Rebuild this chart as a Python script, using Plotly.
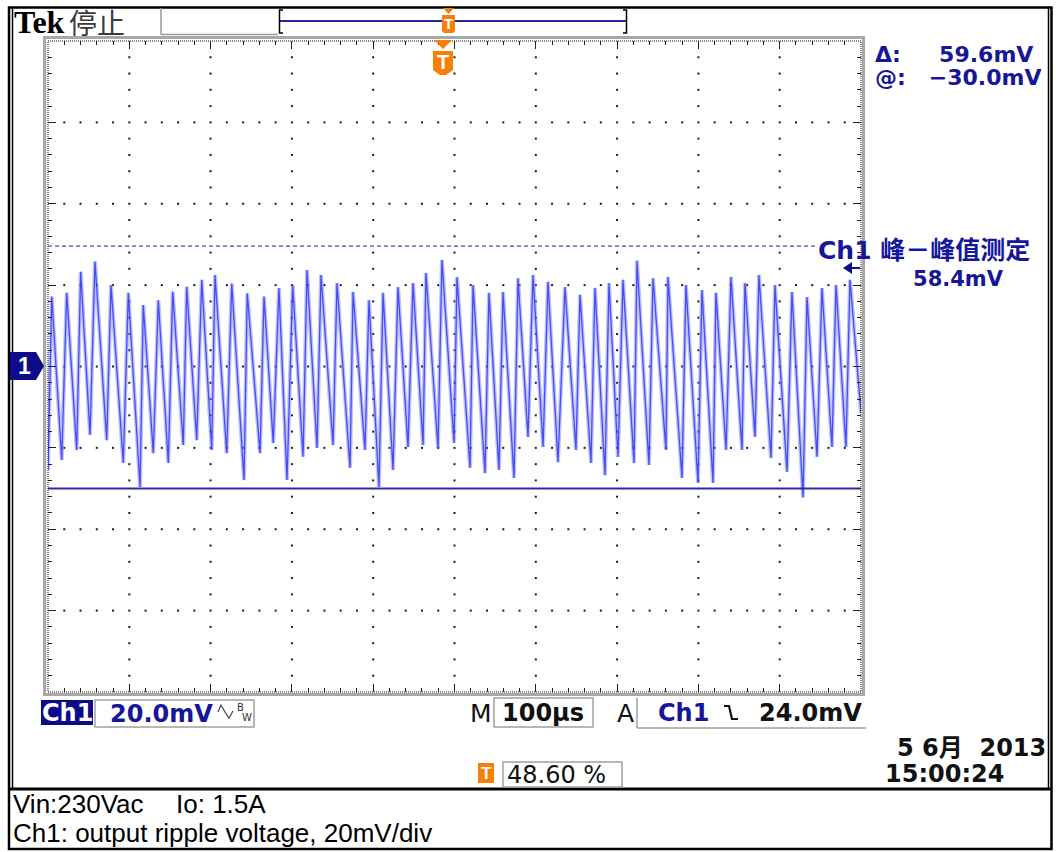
import plotly.graph_objects as go

# ---------------- Ch1 waveform (time in us, amplitude in mV) ----------------
peak_t_us = [4.6, 23.0, 40.2, 57.8, 77.5, 98.8, 117.2, 135.7, 153.4, 170.6,
             189.1, 205.4, 226.0, 245.1, 265.7, 284.1, 301.0, 318.6, 335.8, 355.5,
             375.2, 394.8, 412.1, 430.5, 449.0, 464.9, 484.6, 503.1, 522.8, 542.4,
             559.7, 578.1, 596.6, 615.0, 635.9, 654.4, 672.8, 690.0, 707.3, 724.5,
             744.2, 762.6, 784.7, 804.4, 821.6, 840.1, 857.3, 874.5, 894.2, 915.1,
             933.6, 952.0, 969.3, 986.5]
peak_mv = [17.2, 18.1, 23.3, 25.8, 20.0, 18.1, 15.1, 16.3, 18.4, 19.6,
           21.3, 22.5, 20.4, 18.0, 17.2, 19.3, 20.0, 23.7, 22.5, 20.5,
           18.3, 16.3, 18.1, 19.5, 20.5, 23.0, 26.2, 22.0, 20.0, 18.1,
           18.3, 21.7, 22.5, 20.8, 19.5, 17.6, 19.3, 20.5, 21.3, 26.0,
           21.7, 22.0, 20.0, 18.8, 18.1, 22.0, 20.5, 22.5, 20.0, 18.3,
           17.1, 19.3, 20.0, 21.3]
trough_t_us = [16.9, 35.3, 51.7, 72.2, 92.6, 113.2, 129.5, 148.0, 166.4, 182.9,
               201.4, 219.8, 241.1, 260.8, 277.1, 294.0, 313.7, 330.9, 350.6, 371.5,
               389.9, 407.1, 424.4, 442.8, 461.3, 479.7, 499.4, 519.1, 537.5, 554.7,
               573.2, 590.4, 608.9, 627.3, 649.4, 667.9, 685.1, 701.1, 720.8, 739.2,
               760.1, 779.8, 799.5, 818.0, 834.0, 853.6, 869.6, 889.3, 909.0, 928.7,
               945.9, 964.3, 981.5]
trough_mv = [-23.0, -20.5, -16.8, -18.1, -23.7, -29.6, -21.3, -23.7, -19.3, -18.1,
             -20.5, -21.3, -27.9, -21.3, -18.8, -27.9, -22.2, -20.0, -19.3, -24.9,
             -20.5, -29.6, -25.4, -19.8, -19.3, -20.0, -18.8, -24.9, -26.2, -25.4,
             -27.4, -17.3, -19.8, -23.5, -20.5, -23.7, -26.7, -22.2, -23.7, -24.2,
             -20.5, -27.4, -28.6, -28.6, -20.5, -20.5, -17.3, -22.5, -25.9, -32.2,
             -22.2, -19.8, -19.8]
start_t_us, start_mv = 0.0, -25.4
end_t_us, end_mv = 1000.0, -11.4

# readouts
cursor_delta_mv = 59.6
cursor_at_mv = -30.0
pk_pk_mv = 58.4
volts_per_div = "20.0mV"
time_per_div = "100\u03bcs"
trig_level = "24.0mV"
trig_pos_pct = 48.60

# ---------------- page geometry (pixels) ----------------
W, H = 1056, 852
PL, PR, PT, PB = 48, 861, 41, 692


def px(x):
    return (x - PL) / (PR - PL)


def py(y):
    return (PB - y) / (PB - PT)


SCOPE = "DejaVu Sans, Noto Sans CJK SC, sans-serif"
CJK = "Noto Sans CJK SC, sans-serif"
CAPTION = "Liberation Sans, Arial, sans-serif"
NAVY = "#16169a"
ORANGE = "#f77f08"
NB = "\u00a0"

shapes = []
annotations = []


def line(x0, y0, x1, y1, color="#000", lw=1, dash=None):
    d = dict(type="line", xref="paper", yref="paper", x0=px(x0), y0=py(y0),
             x1=px(x1), y1=py(y1), line=dict(color=color, width=lw))
    if dash:
        d["line"]["dash"] = dash
    shapes.append(d)


def rect(x0, y0, x1, y1, color="#000", lw=1, fill=None, dash=None):
    d = dict(type="rect", xref="paper", yref="paper", x0=px(x0), y0=py(y0),
             x1=px(x1), y1=py(y1), line=dict(color=color, width=lw))
    if dash:
        d["line"]["dash"] = dash
    if fill:
        d["fillcolor"] = fill
    shapes.append(d)


def poly(points, fill, color=None, lw=0):
    p = "M " + " L ".join(f"{px(x):.5f},{py(y):.5f}" for x, y in points) + " Z"
    shapes.append(dict(type="path", xref="paper", yref="paper", path=p,
                       fillcolor=fill, line=dict(color=color or fill, width=lw)))


def polyline(points, color, lw):
    p = "M " + " L ".join(f"{px(x):.5f},{py(y):.5f}" for x, y in points)
    shapes.append(dict(type="path", xref="paper", yref="paper", path=p,
                       line=dict(color=color, width=lw)))


def txt(s, x, y, size=25, color="#000", family=SCOPE, xanchor="left",
        yanchor="middle", weight="normal", align="left"):
    annotations.append(dict(
        text=s, xref="paper", yref="paper", align=align,
        x=px(x), y=py(y), xanchor=xanchor, yanchor=yanchor, showarrow=False,
        font=dict(size=size, color=color, family=family, weight=weight),
        borderpad=0))


def sized(s, size):
    return f'<span style="font-size:{size}px">{s}</span>'


# ---------------- waveform polyline ----------------
wave_t = [start_t_us, peak_t_us[0]]
wave_v = [start_mv, peak_mv[0]]
for k in range(1, len(peak_t_us)):
    wave_t += [trough_t_us[k - 1], peak_t_us[k]]
    wave_v += [trough_mv[k - 1], peak_mv[k]]
wave_t.append(end_t_us)
wave_v.append(end_mv)

# graticule dots along every division line
gx, gy = [], []
for i in range(1, 10):
    for j in range(1, 40):
        gx.append(i * 100)
        gy.append(-80 + j * 4)
for j in range(1, 8):
    for i in range(1, 50):
        if i % 5:
            gx.append(i * 20)
            gy.append(-80 + j * 20)

fig = go.Figure()
fig.add_trace(go.Scatter(x=gx, y=gy, mode="markers", hoverinfo="skip",
                         marker=dict(symbol="square", size=2, color="#1a1a1a",
                                     line=dict(width=0))))
fig.add_trace(go.Scatter(x=wave_t, y=wave_v, mode="lines", hoverinfo="skip",
                         line=dict(color="rgba(125,132,255,0.5)", width=4)))
fig.add_trace(go.Scatter(x=wave_t, y=wave_v, mode="lines", hoverinfo="skip",
                         line=dict(color="rgba(50,58,238,0.85)", width=1.3)))

# cursors (upper one stops at the measurement label)
shapes.append(dict(type="line", xref="paper", yref="y", x0=0, x1=px(815),
                   y0=cursor_at_mv + cursor_delta_mv, y1=cursor_at_mv + cursor_delta_mv,
                   line=dict(color="#2020a0", width=1, dash="4px,3px")))
shapes.append(dict(type="line", xref="paper", yref="y", x0=0, x1=1,
                   y0=cursor_at_mv, y1=cursor_at_mv,
                   line=dict(color="#2a2aa6", width=2)))

# graticule frame
rect(44.5, 37.5, 863.5, 694.5, color="#a8a8a8", lw=3)
rect(PL, PT, PR, PB, color="#111", lw=1, dash="1px,1px")

# outer borders
rect(9, 7.5, 1051.5, 849, color="#000", lw=2.5)
line(12.5, 8, 12.5, 789, "#000", 1.5)
line(1048.5, 8, 1048.5, 789, "#000", 1.5)
line(9, 789, 1051.5, 789, "#000", 3)

# top bar
txt("Tek", 13, 22, size=32, family="Liberation Serif, serif", weight="bold")
txt("停止", 68, 22, size=28, color="#3a3a3a", family=CJK)
line(161, 8, 161, 34.5, "#9a9a9a", 1.5)
line(161, 34.5, 278, 34.5, "#9a9a9a", 1.5)
line(280, 21, 626, 21, "#2626a4", 2)
polyline([(283, 10), (279.5, 10), (279.5, 33), (283, 33)], "#000", 1.5)
polyline([(623, 10), (626.5, 10), (626.5, 33), (623, 33)], "#000", 1.5)

# record-view trigger marker
poly([(443, 8), (454, 8), (448.5, 14)], ORANGE)
poly([(442, 15), (455, 15), (455, 31), (453, 33), (444, 33), (442, 31)], ORANGE)
txt("T", 448.5, 24, size=15, color="#fff", family=CAPTION, xanchor="center", weight="bold")

# on-screen trigger position marker
poly([(434, 40), (452, 40), (443, 49)], ORANGE)
poly([(433, 51), (453, 51), (453, 70), (446, 75), (440, 75), (433, 70)], ORANGE)
txt("T", 443, 62, size=20, color="#fff", family=CAPTION, xanchor="center", weight="bold")

# channel 1 ground marker
poly([(10, 352), (36, 352), (44, 366), (36, 380), (10, 380)], "#0c0c88")
txt("1", 24, 366, size=23, color="#fff", family=CAPTION, xanchor="center", weight="bold")

# cursor readout (two rows in one block)
cursor_rows = (sized(f"\u0394:{NB * 5}{cursor_delta_mv:.1f}mV", 22) + "<br>" +
               sized(f"@:{NB * 3}\u2212{abs(cursor_at_mv):.1f}mV", 22))
txt(cursor_rows, 874, 66, size=18, color=NAVY, weight="bold")

# peak-to-peak measurement readout
meas_rows = (sized("Ch1 峰－峰值测定", 25) + "<br>" +
             sized(f"{NB * 13}{pk_pk_mv:.1f}mV", 21))
txt(meas_rows, 817, 263, size=20.6, color=NAVY, weight="bold")
poly([(843, 268), (852, 262), (852, 274)], "#10108a")
line(850, 268, 860, 268, "#10108a", 2)

# status line
rect(41, 700, 93, 725, color="#0c0c88", lw=0, fill="#0c0c88")
txt("Ch1", 67, 713, size=24, color="#fff", xanchor="center", weight="bold")
rect(95, 700, 254, 727, color="#a0a0a0", lw=1.5)
txt(volts_per_div, 109, 714, size=24, color=NAVY, weight="bold")
polyline([(218, 712), (221, 705), (225, 712), (229, 718), (233, 711)], "#444", 1.2)
txt("B", 240, 707, size=10, color="#333", xanchor="center")
txt("W", 247, 718, size=10, color="#333", xanchor="center")

txt("M", 481, 713, size=25, color="#111", xanchor="center")
rect(494, 698, 593, 727, color="#a0a0a0", lw=1.5)
txt(time_per_div, 543, 713, size=24, color="#111", xanchor="center", weight="bold")
txt("A", 625, 713, size=25, color="#111", xanchor="center")
line(637, 698, 637, 728, "#a0a0a0", 1.5)
line(637, 728, 866, 728, "#a0a0a0", 1.5)
txt("Ch1", 657, 713, size=24, color=NAVY, weight="bold")
polyline([(724, 706), (729, 706), (732, 719), (738, 719)], "#111", 2.2)
txt(trig_level, 863, 713, size=24, color="#111", xanchor="right", weight="bold")

# trigger position and timestamp
rect(478, 763, 494, 783, color=ORANGE, lw=0, fill=ORANGE)
txt("T", 486, 773, size=17, color="#fff", family=CAPTION, xanchor="center", weight="bold")
rect(503, 762, 622, 787, color="#a0a0a0", lw=1.5)
txt(f"{trig_pos_pct:.2f} %", 506, 775, size=24, color="#111")
txt("5 6月  2013", 1047, 748, size=24, color="#111", xanchor="right", weight="bold")
txt("15:00:24", 884, 774, size=24, color="#111", weight="bold")

# caption
txt("Vin:230Vac", 12, 804, size=26, color="#000", family=CAPTION)
txt("Io: 1.5A", 175, 804, size=26, color="#000", family=CAPTION)
txt("Ch1: output ripple voltage, 20mV/div", 12, 833, size=26, color="#000", family=CAPTION)

fig.update_layout(
    width=W, height=H,
    margin=dict(l=PL, r=W - PR, t=PT, b=H - PB, pad=0),
    paper_bgcolor="#fff", plot_bgcolor="#fff",
    showlegend=False,
    shapes=shapes, annotations=annotations,
    xaxis=dict(range=[0, 1000], showgrid=False, zeroline=False, showticklabels=False,
               showline=False, ticks="inside", tickmode="linear", tick0=0, dtick=100,
               ticklen=8, tickwidth=1, tickcolor="#222", mirror="ticks", fixedrange=True,
               minor=dict(ticks="inside", dtick=20, ticklen=4, tickwidth=1, tickcolor="#222")),
    yaxis=dict(range=[-80, 80], showgrid=False, zeroline=False, showticklabels=False,
               showline=False, ticks="inside", tickmode="linear", tick0=-80, dtick=20,
               ticklen=8, tickwidth=1, tickcolor="#222", mirror="ticks", fixedrange=True,
               minor=dict(ticks="inside", dtick=4, ticklen=4, tickwidth=1, tickcolor="#222")),
)

fig.write_html("out.html", config={"displayModeBar": False})
